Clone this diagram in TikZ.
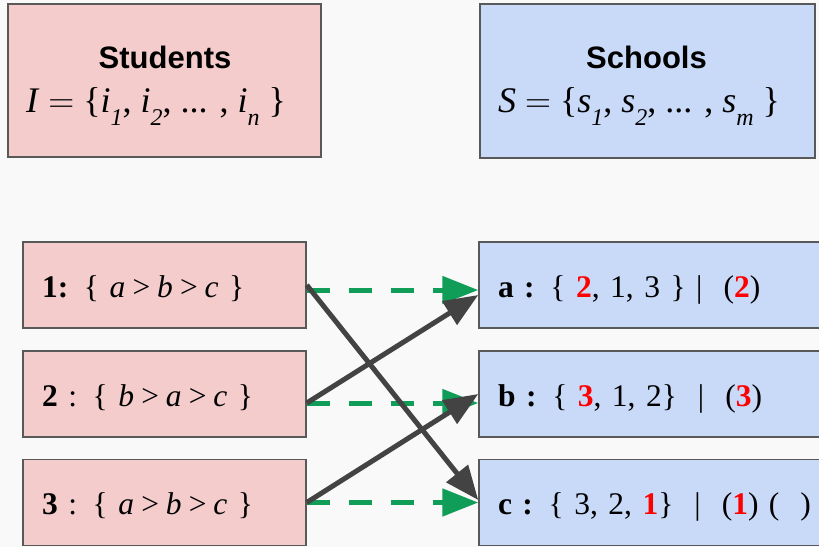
\RequirePackage{fix-cm}
\documentclass[tikz,border=0pt]{standalone}
\usepackage{fontspec}
\setmainfont{Liberation Serif}
\newfontfamily\headfont{Liberation Sans}
\usetikzlibrary{arrows.meta}
\definecolor{bgcol}{HTML}{F9F9F9}
\definecolor{studfill}{HTML}{F4CCCC}
\definecolor{schlfill}{HTML}{C9DAF8}
\definecolor{boxline}{HTML}{595959}
\definecolor{matchgreen}{HTML}{0F9D58}
\definecolor{propgray}{HTML}{434343}
\newcommand{\rk}[1]{\textcolor{red}{\textbf{#1}}}
\newcommand{\sub}[2]{\textit{#1}\raisebox{-13pt}{\fontsize{24}{24}\selectfont\textit{#2}}}

\begin{document}
\begin{tikzpicture}[x=1pt,y=-1pt,line width=1.5pt,
  box/.style={draw=boxline,rectangle,inner ysep=0pt},
  studbox/.style={box,fill=studfill},
  schlbox/.style={box,fill=schlfill},
  rowbox/.style={minimum height=86pt,inner xsep=19pt,align=left,
    text height=24pt,text depth=0pt,font=\fontsize{31.5}{36}\selectfont},
  title/.style={anchor=base,font=\fontsize{31}{36}\headfont\bfseries},
  setline/.style={anchor=base west,font=\fontsize{36}{42}\selectfont},
  match/.style={draw=matchgreen,line width=5pt,dash pattern=on 23pt off 19pt,
    -{Triangle[length=36pt,width=27pt]}},
  propose/.style={draw=propgray,line width=5pt,-{Triangle[length=34pt,width=27pt]}}]
\fill[bgcol] (0,0) rectangle (819,547);
\clip (0,0) rectangle (819,547);
% --- the two sets ---
\node[studbox,minimum width=313pt,minimum height=153pt] (stud) at (164.5,80.5) {};
\node[schlbox,minimum width=335pt,minimum height=154pt] (schl) at (647.5,81) {};
\node[title] (studtitle) at (165,68) {Students};
\node[title] (schltitle) at (646.5,68) {Schools};
\node[setline] (studset) at (22,112)
  {\textit{I} $=$ \{\sub{i}{1}, \sub{i}{2}, ... , \sub{i}{n} \}};
\node[setline] (schlset) at (494,112)
  {\textit{S} $=$ \{\sub{s}{1}, \sub{s}{2}, ... , \sub{s}{m} \}};
% --- students and their preferences ---
\node[studbox,rowbox,text width=245pt] (s1) at (164.5,285)
  {\textbf{1:} \{ \textit{a\,>\,b\,>\,c} \}};
\node[studbox,rowbox,text width=245pt] (s2) at (164.5,394)
  {\textbf{2} : \{ \textit{b\,>\,a\,>\,c} \}};
\node[studbox,rowbox,text width=245pt] (s3) at (164.5,502.5)
  {\textbf{3} : \{ \textit{a\,>\,b\,>\,c} \}};
% --- schools, priorities and tentative holds ---
\node[schlbox,rowbox,text width=400pt] (a) at (698,285)
  {\textbf{a :} \{ \rk{2}, 1, 3 \} | \ (\rk{2})};
\node[schlbox,rowbox,text width=400pt] (b) at (698,394)
  {\textbf{b :} \{ \rk{3}, 1, 2\} \ | \ (\rk{3})};
\node[schlbox,rowbox,text width=400pt] (c) at (698,502.5)
  {\textbf{c :} \{ 3, 2, \rk{1}\} \ | \ (\rk{1}) ( \ )};
% final matching
\draw[match] ([yshift=-5pt]s1.east) -- ([yshift=-5pt]a.west);
\draw[match] ([yshift=-9pt]s2.east) -- ([yshift=-9pt]b.west);
\draw[match] (s3.east) -- (c.west);
% proposals
\draw[propose] (s1.east) -- ([yshift=2.5pt]c.west);
\draw[propose] ([yshift=-9pt]s2.east) -- ([yshift=-10pt]a.west);
\draw[propose] (s3.east) -- (b.west);
\end{tikzpicture}
\end{document}
